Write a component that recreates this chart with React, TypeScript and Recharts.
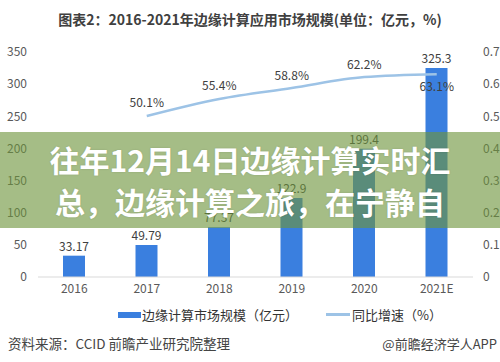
import React from 'react';
import { ComposedChart, Bar, Line, XAxis, YAxis, LabelList, Legend } from 'recharts';

const years = ['2016', '2017', '2018', '2019', '2020', '2021E'];
const marketSize = [33.17, 49.79, 77.37, 122.9, 199.4, 325.3];
const growth = [null, 0.501, 0.554, 0.588, 0.622, 0.631];
const leftTicks = [0, 50, 100, 150, 200, 250, 300, 350];
const rightTicks = [0, 0.1, 0.2, 0.3, 0.4, 0.5, 0.6, 0.7];

const barName = '边缘计算市场规模（亿元）';
const lineName = '同比增速（%）';

const BAR_COLOR = '#3a7fdf';
const LINE_COLOR = '#9dc3e6';
const FONT = '"Noto Sans CJK SC", "Noto Sans", sans-serif';

const data = years.map((year, i) => ({ year, size: marketSize[i], rate: growth[i] }));

const GrowthLabel = (props: any) => {
  const { x, y, value, index } = props;
  if (value == null) return null;
  const last = index === years.length - 1;
  return (
    <text
      x={x}
      y={last ? y + 11 : y - 14}
      textAnchor="middle"
      dominantBaseline="central"
      fontSize={12}
      fill="#404040"
      fontFamily={FONT}
    >
      {(value * 100).toFixed(1)}%
    </text>
  );
};

const LegendContent = () => (
  <div style={{ display: 'flex', alignItems: 'center', fontSize: 13, color: '#333', fontFamily: FONT }}>
    <span style={{ display: 'inline-block', marginLeft: 118, width: 23, height: 6, background: BAR_COLOR }} />
    <span style={{ marginLeft: 1 }}>{barName}</span>
    <span style={{ display: 'inline-block', marginLeft: 28, width: 24, height: 3, background: LINE_COLOR }} />
    <span style={{ marginLeft: 2 }}>{lineName}</span>
  </div>
);

export default function App() {
  return (
    <div
      style={{
        position: 'absolute',
        left: 0,
        top: 0,
        width: 500,
        height: 362,
        background: '#fff',
        overflow: 'hidden',
        fontFamily: FONT,
      }}
    >
      <div
        style={{
          position: 'absolute',
          top: 8,
          left: 0,
          width: 500,
          textAlign: 'center',
          fontSize: 14,
          fontWeight: 700,
          color: '#404040',
          lineHeight: '22px',
        }}
      >
        图表2：2016-2021年边缘计算应用市场规模(单位：亿元，%)
      </div>

      <div style={{ position: 'absolute', left: 0, top: 0 }}>
        <ComposedChart width={500} height={362} data={data} margin={{ top: 52, right: 0, bottom: 0, left: 0 }}>
          <XAxis
            dataKey="year"
            height={85}
            tickLine={false}
            tickSize={0}
            tickMargin={7}
            axisLine={{ stroke: '#d9d9d9' }}
            tick={{ fontSize: 12, fill: '#595959', fontFamily: FONT }}
            interval={0}
          />
          <YAxis
            yAxisId="left"
            width={38}
            domain={[0, 350]}
            ticks={leftTicks}
            axisLine={false}
            tickLine={false}
            tickSize={0}
            tickMargin={11}
            tick={{ fontSize: 12, fill: '#595959', fontFamily: FONT }}
          />
          <YAxis
            yAxisId="right"
            orientation="right"
            width={27}
            domain={[0, 0.7]}
            ticks={rightTicks}
            axisLine={false}
            tickLine={false}
            tickSize={0}
            tickMargin={10}
            tick={{ fontSize: 12, fill: '#595959', fontFamily: FONT }}
          />
          <Legend
            layout="horizontal"
            verticalAlign="middle"
            align="center"
            wrapperStyle={{ top: 305, left: 0, width: 500 }}
            content={<LegendContent />}
          />
          <Bar yAxisId="left" dataKey="size" name={barName} fill={BAR_COLOR} barSize={22} isAnimationActive={false}>
            <LabelList dataKey="size" position="top" offset={5} fontSize={12} fill="#404040" fontFamily={FONT} />
          </Bar>
          <Line
            yAxisId="right"
            dataKey="rate"
            name={lineName}
            stroke={LINE_COLOR}
            strokeWidth={2.5}
            dot={false}
            activeDot={false}
            type="monotone"
            isAnimationActive={false}
          >
            <LabelList dataKey="rate" content={<GrowthLabel />} />
          </Line>
        </ComposedChart>
      </div>

      <div style={{ position: 'absolute', left: 8, top: 334, fontSize: 13.5, color: '#444', lineHeight: '18px' }}>
        资料来源：CCID 前瞻产业研究院整理
      </div>
      <div style={{ position: 'absolute', right: 3, top: 335, fontSize: 13, color: '#444', lineHeight: '18px' }}>
        @前瞻经济学人APP
      </div>

      <div
        style={{
          position: 'absolute',
          left: 0,
          top: 132,
          width: 500,
          height: 96,
          background: 'rgba(110,148,60,0.62)',
          color: '#fff',
          fontWeight: 700,
          fontSize: 30,
          lineHeight: '42px',
          textAlign: 'center',
          paddingTop: 6,
          boxSizing: 'border-box',
          textShadow: '0 0 2px rgba(0,0,0,0.15)',
        }}
      >
        <div>往年12月14日边缘计算实时汇</div>
        <div>总，边缘计算之旅，在宁静自</div>
      </div>
    </div>
  );
}
